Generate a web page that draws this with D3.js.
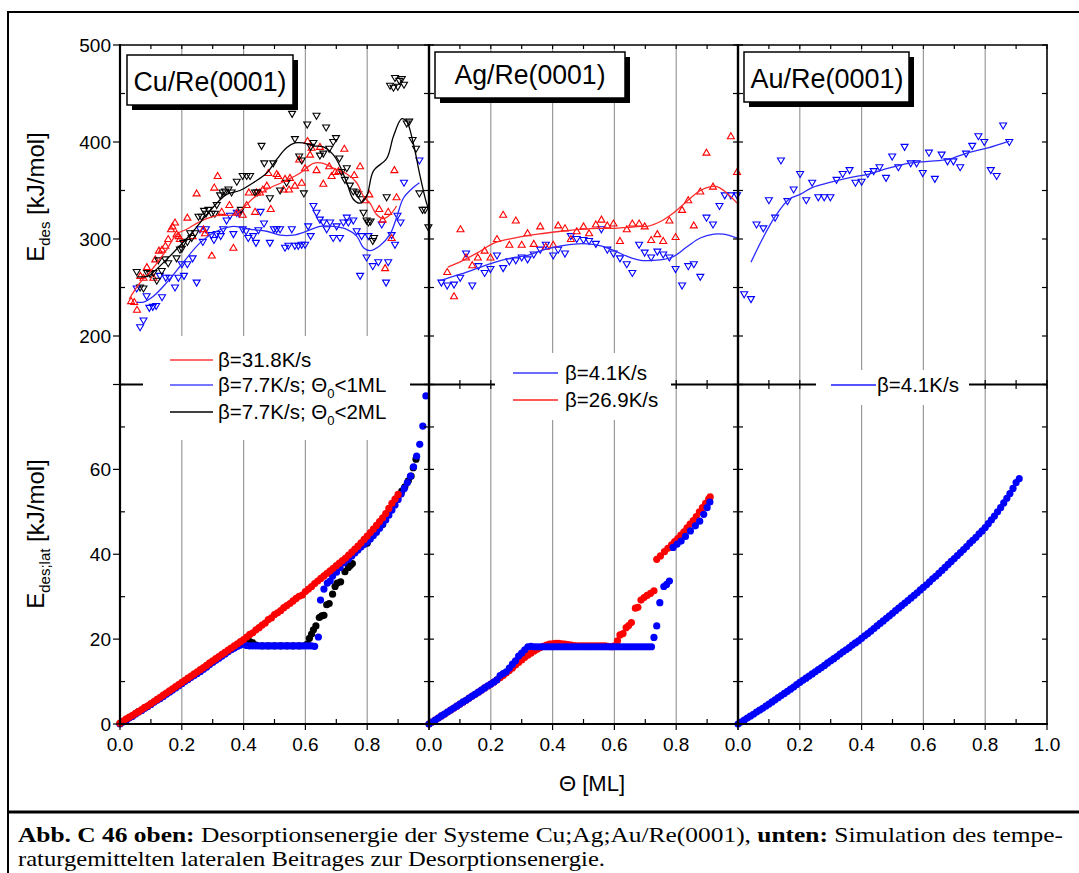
<!DOCTYPE html>
<html><head><meta charset="utf-8">
<script src="https://cdn.jsdelivr.net/npm/d3@7"></script>
<style>body{margin:0;background:#fff}svg{display:block}text{font-family:"Liberation Sans",Arial,sans-serif;fill:#000}</style>
</head><body><svg id="c" width="1079" height="873"></svg>
<script>
// ---------- DATA (Theta [ML], energy) ----------
const panelTitles = ["Cu/Re(0001)", "Ag/Re(0001)", "Au/Re(0001)"];
const topYTicks = [200, 300, 400, 500];
const botYTicks = [0, 20, 40, 60];
const xTickLabels = [["0.0","0.2","0.4","0.6","0.8"],["0.0","0.2","0.4","0.6","0.8"],["0.0","0.2","0.4","0.6","0.8","1.0"]];
const xTickValues = [0, 0.2, 0.4, 0.6, 0.8, 1.0];

// Cu top: beta=31.8 K/s (red up), 7.7 K/s <1ML (blue down), 7.7 K/s <2ML (black down)
const cuTopRed = [[.036,236],[.046,235],[.055,227],[.066,262],[.076,260],[.087,271],[.108,260],[.114,279],[.126,288],[.136,289],[.147,293],[.156,300],[.165,310],[.170,313],[.178,317],[.183,305],[.190,303],[.194,300],[.218,322],[.235,303],[.248,347],[.270,310],[.275,306],[.297,283],[.305,353],[.316,365],[.329,328],[.354,335],[.367,291],[.378,327],[.397,325],[.410,335],[.417,348],[.437,328],[.442,348],[.453,348],[.462,351],[.475,355],[.480,368],[.488,331],[.507,367],[.512,365],[.529,351],[.534,362],[.547,351],[.550,363],[.566,355],[.580,382],[.588,358],[.599,373],[.607,401],[.615,387],[.620,394],[.636,371],[.647,395],[.658,357],[.677,375],[.685,365],[.696,369],[.707,370],[.726,393],[.758,366],[.777,375],[.793,340],[.807,346],[.839,331],[.850,320],[.858,270],[.868,328],[.879,301],[.888,371],[.895,343]];
const cuTopRedFit = [[.030,238],[.043,245],[.065,255],[.097,266],[.151,289],[.183,305],[.216,310],[.259,318],[.313,324],[.367,325],[.399,332],[.431,342],[.475,351],[.529,359],[.583,368],[.626,378],[.658,378],[.690,373],[.734,367],[.766,358],[.788,344],[.809,337],[.831,325],[.852,321],[.874,325],[.895,334]];
const cuTopBlue = [[.054,249],[.065,209],[.076,216],[.086,241],[.095,229],[.106,230],[.117,231],[.129,262],[.136,240],[.148,260],[.160,260],[.178,250],[.189,260],[.200,274],[.207,262],[.218,274],[.235,280],[.248,255],[.259,310],[.268,297],[.278,310],[.296,304],[.304,299],[.313,305],[.326,303],[.334,310],[.345,319],[.356,324],[.367,305],[.378,327],[.386,326],[.397,310],[.408,308],[.415,301],[.431,303],[.440,296],[.448,309],[.455,328],[.466,316],[.485,296],[.498,310],[.507,310],[.518,310],[.534,291],[.545,293],[.556,310],[.566,293],[.577,293],[.588,294],[.599,294],[.609,313],[.617,303],[.626,334],[.636,327],[.647,320],[.658,317],[.669,310],[.680,317],[.690,301],[.701,313],[.712,301],[.723,317],[.734,322],[.739,317],[.755,319],[.766,308],[.777,262],[.782,303],[.798,281],[.804,303],[.818,272],[.836,276],[.847,315],[.861,255],[.868,276],[.879,304],[.890,294],[.898,324],[.908,317],[.919,358],[.969,381]];
const cuTopBlueFit = [[.054,235],[.076,235],[.108,241],[.151,255],[.205,276],[.259,296],[.313,308],[.367,313],[.421,310],[.475,308],[.518,304],[.561,304],[.604,308],[.647,313],[.690,313],[.734,310],[.766,303],[.788,291],[.809,288],[.841,293],[.874,305],[.895,322],[.917,342],[.949,353],[.969,358]];
const cuTopBlack = [[.054,266],[.065,250],[.076,249],[.088,265],[.097,264],[.108,265],[.119,257],[.124,278],[.135,267],[.146,279],[.156,275],[.183,280],[.194,289],[.200,290],[.205,296],[.218,297],[.227,306],[.232,301],[.243,306],[.254,323],[.264,323],[.272,329],[.278,326],[.286,330],[.297,326],[.307,326],[.313,335],[.324,345],[.332,348],[.340,349],[.351,351],[.361,348],[.378,359],[.391,330],[.397,365],[.410,365],[.421,365],[.437,348],[.444,348],[.458,396],[.467,378],[.485,342],[.496,378],[.518,350],[.539,358],[.557,429],[.566,403],[.580,385],[.588,381],[.595,347],[.606,418],[.617,395],[.626,399],[.636,427],[.647,386],[.658,388],[.667,415],[.677,393],[.690,400],[.699,404],[.710,383],[.717,369],[.728,361],[.734,373],[.744,355],[.755,349],[.766,348],[.771,346],[.782,341],[.788,327],[.798,319],[.804,317],[.811,318],[.818,298],[.822,301],[.863,343],[.874,458],[.885,456],[.890,466],[.899,457],[.904,463],[.912,465],[.919,459],[.928,419],[.936,421],[.947,402],[.958,393],[.969,347],[.979,330],[.987,330],[.998,312]];
const cuTopBlackFit = [[.054,261],[.076,261],[.092,262],[.151,279],[.194,293],[.237,308],[.291,329],[.345,346],[.388,350],[.431,358],[.475,368],[.507,382],[.539,394],[.566,399],[.593,399],[.626,396],[.658,395],[.690,387],[.712,375],[.734,358],[.755,341],[.777,337],[.798,344],[.820,370],[.863,383],[.885,406],[.912,424],[.928,421],[.949,399],[.971,365],[.992,337],[1.0,330]];

// Ag top: beta=26.9 K/s (red up), 4.1 K/s (blue down)
const agTopRed = [[.059,266],[.081,241],[.102,310],[.120,281],[.140,273],[.158,281],[.180,288],[.199,281],[.220,300],[.240,325],[.260,294],[.281,319],[.300,294],[.319,306],[.339,295],[.360,313],[.378,292],[.402,294],[.418,314],[.440,311],[.459,300],[.478,308],[.500,313],[.518,306],[.540,315],[.558,320],[.577,314],[.597,316],[.618,298],[.640,310],[.658,316],[.680,316],[.698,313],[.719,299],[.739,305],[.758,298],[.778,319],[.798,302],[.819,330],[.839,340],[.857,314],[.878,349],[.898,389],[.919,354],[.977,406],[.997,369]];
const agTopRedFit = [[.061,271],[.104,277],[.158,286],[.212,296],[.276,301],[.352,305],[.427,308],[.491,310],[.556,311],[.599,311],[.642,312],[.685,313],[.706,313],[.749,318],[.792,327],[.835,339],[.878,350],[.911,354],[.932,354],[.954,350],[.975,344],[.997,337]];
const agTopBlue = [[.040,255],[.059,252],[.081,253],[.101,260],[.120,285],[.140,252],[.160,272],[.180,265],[.199,269],[.220,283],[.240,270],[.260,277],[.281,278],[.300,281],[.319,279],[.339,284],[.360,289],[.378,294],[.402,283],[.418,289],[.440,285],[.459,303],[.478,300],[.500,299],[.518,298],[.540,295],[.558,310],[.577,289],[.597,285],[.618,280],[.640,274],[.658,265],[.680,294],[.698,286],[.719,281],[.739,287],[.758,284],[.778,281],[.798,269],[.819,252],[.839,272],[.857,274],[.878,261],[.898,322],[.919,315],[.940,334],[.957,345],[.977,345],[.997,345]];
const agTopBlueFit = [[.034,257],[.104,264],[.158,270],[.212,276],[.276,281],[.319,283],[.373,289],[.427,293],[.481,295],[.513,295],[.556,293],[.599,288],[.642,282],[.685,278],[.728,278],[.760,279],[.792,282],[.835,292],[.878,301],[.922,305],[.954,305],[.997,301]];

// Au top: beta=4.1 K/s (blue down)
const auTopBlue = [[.020,243],[.042,238],[.060,315],[.082,311],[.100,340],[.120,322],[.139,381],[.160,339],[.180,351],[.201,367],[.221,340],[.240,358],[.260,343],[.279,343],[.299,343],[.319,361],[.339,367],[.361,371],[.380,358],[.400,359],[.420,367],[.439,370],[.458,374],[.479,363],[.499,385],[.519,374],[.539,395],[.559,378],[.578,378],[.598,368],[.618,389],[.637,362],[.659,387],[.678,380],[.697,380],[.719,374],[.738,388],[.758,396],[.778,406],[.797,400],[.818,371],[.837,365],[.858,417],[.878,400]];
const auTopBlueFit = [[.042,276],[.079,300],[.122,324],[.165,341],[.201,346],[.240,353],[.294,358],[.358,363],[.423,367],[.487,373],[.552,378],[.616,380],[.680,382],[.745,389],[.809,394],[.878,401]];

// Bottom: simulated lateral contribution E_des;lat [kJ/mol]
const cuSimRed = [[0,.2],[.01,.7],[.02,1.2],[.03,1.6],[.04,2],[.05,2.5],[.06,2.9],[.07,3.4],[.08,3.9],[.09,4.3],[.1,4.8],[.11,5.3],[.12,5.8],[.13,6.3],[.14,6.8],[.15,7.3],[.16,7.8],[.17,8.3],[.18,8.8],[.19,9.3],[.2,9.8],[.21,10.3],[.22,10.8],[.23,11.3],[.24,11.8],[.25,12.3],[.26,12.8],[.27,13.3],[.28,13.8],[.29,14.4],[.3,14.9],[.31,15.4],[.32,15.9],[.33,16.4],[.34,16.9],[.35,17.4],[.36,17.9],[.37,18.4],[.38,18.9],[.39,19.4],[.4,19.9],[.41,20.5],[.42,21.1],[.43,21.5],[.44,22.2],[.45,22.7],[.46,23.3],[.47,23.8],[.48,24.6],[.49,25],[.5,25.8],[.51,26.2],[.52,26.7],[.53,27.4],[.54,27.9],[.55,28.4],[.56,29],[.57,29.6],[.58,30.1],[.59,30.4],[.6,31.2],[.61,31.8],[.62,32.4],[.63,33.1],[.64,33.7],[.65,34.3],[.66,34.9],[.67,35.5],[.68,36.1],[.69,36.7],[.7,37.3],[.71,37.9],[.72,38.5],[.73,39.1],[.74,39.8],[.75,40.5],[.76,41.2],[.77,41.9],[.78,42.7],[.79,43.5],[.8,44.3],[.81,45.1],[.82,45.9],[.83,46.8],[.84,47.7],[.85,48.6],[.86,49.6],[.87,50.8],[.88,52],[.89,53],[.9,54.1]];
const cuSimBlue = [[0,0],[.01,.45],[.02,.9],[.03,1.4],[.04,1.8],[.05,2.3],[.06,2.8],[.07,3.2],[.08,3.7],[.09,4.1],[.1,4.6],[.11,5.1],[.12,5.6],[.13,6],[.14,6.5],[.15,7],[.16,7.5],[.17,8],[.18,8.5],[.19,9],[.2,9.5],[.21,10],[.22,10.5],[.23,11],[.24,11.4],[.25,11.9],[.26,12.4],[.27,12.9],[.28,13.4],[.29,14],[.3,14.5],[.31,15],[.32,15.5],[.33,16],[.34,16.5],[.35,17],[.36,17.5],[.37,17.9],[.38,18.3],[.39,18.6],[.4,18.8],[.41,18.5],[.42,18.4],[.43,18.4],[.44,18.4],[.45,18.4],[.46,18.4],[.47,18.4],[.48,18.4],[.49,18.4],[.5,18.4],[.51,18.4],[.52,18.4],[.53,18.4],[.54,18.4],[.55,18.4],[.56,18.4],[.57,18.4],[.58,18.4],[.59,18.4],[.6,18.4],[.61,18.4],[.62,18.4],[.63,18.3],[.642,20.5],[.649,29.2],[.66,31.8],[.671,33.2],[.68,33.7],[.688,34.9],[.701,35.8],[.712,36.9],[.725,38],[.739,38.8],[.75,39.6],[.76,40.3],[.77,41],[.78,41.7],[.79,42.3],[.8,42.9],[.81,43.6],[.82,44.4],[.83,45.2],[.84,46.1],[.85,47.1],[.86,48.1],[.87,49.2],[.88,50.4],[.89,51.6],[.9,52.9],[.91,54.2],[.92,55.5],[.93,56.9],[.94,58.4],[.95,60.6],[.96,63.1],[.97,65.9],[.98,70.2],[.99,77.3]];
const cuSimBlack = [[0,.1],[.02,1],[.04,1.9],[.06,2.9],[.08,3.8],[.1,4.7],[.12,5.7],[.14,6.6],[.16,7.6],[.18,8.6],[.2,9.6],[.22,10.6],[.24,11.6],[.26,12.6],[.28,13.6],[.3,14.7],[.32,15.7],[.34,16.8],[.36,17.8],[.38,18.7],[.4,19.2],[.41,19.4],[.42,19.4],[.43,19.1],[.44,18.6],[.46,18.4],[.48,18.4],[.5,18.4],[.52,18.4],[.54,18.4],[.56,18.4],[.58,18.4],[.6,18.5],[.606,18.8],[.613,20.2],[.62,21.2],[.626,22.2],[.634,23.1],[.645,25.1],[.653,25.5],[.66,25.6],[.669,28.1],[.677,28.4],[.688,30.6],[.696,32.4],[.703,33.2],[.714,33.5],[.728,35.9],[.739,36.9],[.746,37.4],[.752,37.8],[.8,42.6],[.85,47],[.9,53.7],[.912,54.9],[.922,55.9],[.933,57.3],[.942,58.4],[.949,60.4],[.958,62.4]];

const agSimRed = [[0,0],[.01,.45],[.02,.9],[.03,1.4],[.04,1.9],[.05,2.3],[.06,2.8],[.07,3.3],[.08,3.7],[.09,4.2],[.1,4.7],[.11,5.1],[.12,5.6],[.13,6.1],[.14,6.6],[.15,7],[.16,7.5],[.17,8],[.18,8.5],[.19,8.9],[.2,9.4],[.21,9.9],[.22,10.4],[.23,10.9],[.24,11.4],[.25,12],[.26,12.6],[.27,13.2],[.28,13.9],[.29,14.5],[.3,15.1],[.31,15.7],[.32,16.2],[.33,16.7],[.34,17.2],[.35,17.6],[.36,18],[.37,18.3],[.38,18.6],[.39,18.8],[.4,18.9],[.41,19],[.42,19],[.43,18.9],[.44,18.8],[.45,18.7],[.46,18.6],[.47,18.5],[.48,18.4],[.49,18.4],[.5,18.4],[.51,18.4],[.52,18.4],[.53,18.4],[.54,18.4],[.55,18.4],[.56,18.4],[.57,18.4],[.58,18.3],[.59,18.2],[.6,18.4],[.61,19.6],[.618,21],[.628,21.3],[.638,22.7],[.646,23.2],[.655,23.9],[.668,27.3],[.676,27.5],[.686,29.2],[.696,29.8],[.706,30.3],[.717,30.8],[.728,31.4],[.737,38.8],[.749,39.6],[.762,40.6],[.773,41.4],[.785,42.2],[.795,43],[.805,43.7],[.815,44.5],[.825,45.3],[.835,46.2],[.845,47.1],[.855,47.9],[.865,48.9],[.875,50],[.885,51],[.895,52],[.905,53],[.91,53.5]];
const agSimBlue = [[0,0],[.01,.47],[.02,.93],[.03,1.4],[.04,1.9],[.05,2.35],[.06,2.8],[.07,3.3],[.08,3.75],[.09,4.2],[.1,4.7],[.11,5.2],[.12,5.6],[.13,6.1],[.14,6.6],[.15,7.05],[.16,7.5],[.17,8],[.18,8.5],[.19,9],[.2,9.4],[.21,9.9],[.22,10.4],[.23,11.4],[.24,11.9],[.25,12.3],[.26,13.2],[.27,14.1],[.28,14.9],[.29,16],[.3,16.7],[.31,17.5],[.32,18.2],[.33,18.3],[.34,18.2],[.35,18.2],[.36,18.2],[.37,18.2],[.38,18.2],[.39,18.2],[.4,18.2],[.41,18.2],[.42,18.2],[.43,18.2],[.44,18.2],[.45,18.2],[.46,18.2],[.47,18.2],[.48,18.2],[.49,18.2],[.5,18.2],[.51,18.2],[.52,18.2],[.53,18.2],[.54,18.2],[.55,18.2],[.56,18.2],[.57,18.2],[.58,18.2],[.59,18.2],[.6,18.2],[.61,18.2],[.62,18.2],[.63,18.2],[.64,18.2],[.65,18.2],[.66,18.2],[.67,18.2],[.68,18.2],[.69,18.2],[.7,18.2],[.71,18.2],[.72,18.2],[.728,20.4],[.737,23.1],[.747,28.6],[.76,32.4],[.769,32.9],[.778,33.7],[.79,41.6],[.803,42.4],[.816,43.1],[.83,44.2],[.846,45.5],[.862,46.7],[.876,47.8],[.889,49.4],[.9,51],[.909,52.3]];

const auSimBlue = [[0,0],[.01,.45],[.02,.9],[.03,1.4],[.04,1.85],[.05,2.3],[.06,2.8],[.07,3.25],[.08,3.7],[.09,4.2],[.1,4.7],[.11,5.2],[.12,5.7],[.13,6.2],[.14,6.7],[.15,7.2],[.16,7.7],[.17,8.2],[.18,8.7],[.19,9.3],[.2,9.8],[.21,10.3],[.22,10.8],[.23,11.3],[.24,11.8],[.25,12.3],[.26,12.8],[.27,13.3],[.28,13.8],[.29,14.4],[.3,14.9],[.31,15.4],[.32,15.9],[.33,16.5],[.34,17],[.35,17.5],[.36,18],[.37,18.6],[.38,19.1],[.39,19.6],[.4,20.2],[.41,20.8],[.42,21.3],[.43,21.9],[.44,22.5],[.45,23.1],[.46,23.7],[.47,24.3],[.48,24.9],[.49,25.5],[.5,26.1],[.51,26.7],[.52,27.3],[.53,27.9],[.54,28.5],[.55,29.1],[.56,29.7],[.57,30.3],[.58,30.9],[.59,31.6],[.6,32.2],[.61,32.8],[.62,33.5],[.63,34.2],[.64,34.8],[.65,35.5],[.66,36.2],[.67,36.9],[.68,37.6],[.69,38.3],[.7,39],[.71,39.7],[.72,40.4],[.73,41.1],[.74,41.8],[.75,42.6],[.76,43.3],[.77,44],[.78,44.8],[.79,45.5],[.8,46.3],[.81,47.2],[.82,48.1],[.83,49],[.84,50],[.85,51],[.86,52.1],[.87,53.2],[.88,54.3],[.89,55.5],[.9,56.9],[.91,57.8]];

// ---------- LAYOUT ----------
const svg = d3.select("#c");
const PW = 309, X0s = [120, 429, 738];
const xs = X0s.map(x0 => d3.scaleLinear().domain([0, 1]).range([x0, x0 + PW]));
const yT = d3.scaleLinear().domain([150, 500]).range([384.5, 45]);
const yB = d3.scaleLinear().domain([0, 80]).range([724, 384.5]);
const RED = "#ff0000", BLUE = "#0000ff", BLK = "#000";

// outer frame & caption rule
svg.append("line").attr("x1",8).attr("x2",1079).attr("y1",12).attr("y2",12).attr("stroke","#000").attr("stroke-width",2);
svg.append("line").attr("x1",8).attr("x2",8).attr("y1",11).attr("y2",873).attr("stroke","#000").attr("stroke-width",2);
svg.append("line").attr("x1",8).attr("x2",1079).attr("y1",812).attr("y2",812).attr("stroke","#000").attr("stroke-width",3);

// grid lines
xs.forEach(x => {
  [0.2,0.4,0.6,0.8].forEach(v => svg.append("line").attr("x1",x(v)).attr("x2",x(v)).attr("y1",45).attr("y2",724)
    .attr("stroke","#9a9a9a").attr("stroke-width",1.2));
});

// middle axis line + its ticks (covered by legends)
svg.append("line").attr("x1",120).attr("x2",1047).attr("y1",384.5).attr("y2",384.5).attr("stroke","#000").attr("stroke-width",2);
xs.forEach(x => d3.range(0, 11).forEach(i => {
  const v = i / 10;
  svg.append("line").attr("x1",x(v)).attr("x2",x(v)).attr("y1",380).attr("y2",389).attr("stroke","#000").attr("stroke-width",1.2);
}));

// ---------- SERIES ----------
const upTri = "M0,-3.5L3.5,2.5L-3.5,2.5Z", downTri = "M0,3.5L3.5,-2.5L-3.5,-2.5Z";
function tri(data, x, color, path) {
  svg.append("g").selectAll("path").data(data).join("path")
    .attr("d", path).attr("transform", d => `translate(${x(d[0])},${yT(d[1])})`)
    .attr("fill","none").attr("stroke", color).attr("stroke-width", 1.1);
}
function fit(data, x, color) {
  svg.append("path").datum(data).attr("fill","none").attr("stroke",color).attr("stroke-width",1.3)
    .attr("d", d3.line().x(d => x(d[0])).y(d => yT(d[1])).curve(d3.curveCatmullRom.alpha(0.5)));
}
function dots(data, x, color) {
  svg.append("g").selectAll("circle").data(data).join("circle")
    .attr("cx", d => x(d[0])).attr("cy", d => yB(d[1])).attr("r", 3.6).attr("fill", color);
}
// Cu top
tri(cuTopBlue, xs[0], BLUE, downTri);
tri(cuTopRed, xs[0], RED, upTri);
tri(cuTopBlack, xs[0], BLK, downTri);
fit(cuTopBlueFit, xs[0], "#2a2aff");
fit(cuTopRedFit, xs[0], "#ff2a2a");
fit(cuTopBlackFit, xs[0], BLK);
// Ag top
tri(agTopBlue, xs[1], BLUE, downTri);
tri(agTopRed, xs[1], RED, upTri);
fit(agTopBlueFit, xs[1], "#2a2aff");
fit(agTopRedFit, xs[1], "#ff2a2a");
// Au top
tri(auTopBlue, xs[2], BLUE, downTri);
fit(auTopBlueFit, xs[2], "#2a2aff");
// bottom simulations
dots(cuSimBlack, xs[0], BLK);
dots(cuSimBlue, xs[0], BLUE);
dots(cuSimRed, xs[0], RED);
dots(agSimRed, xs[1], RED);
dots(agSimBlue, xs[1], BLUE);
dots(auSimBlue, xs[2], BLUE);

// ---------- LEGENDS ----------
const legendBoxes = [[143,336,267,104],[495,353,176,67],[816,370,153,35]];
legendBoxes.forEach(b => svg.append("rect").attr("x",b[0]).attr("y",b[1]).attr("width",b[2]).attr("height",b[3]).attr("fill","#fff"));
function legendItem(x1, x2, y, color, tx, parts) {
  svg.append("line").attr("x1",x1).attr("x2",x2).attr("y1",y).attr("y2",y).attr("stroke",color).attr("stroke-width",1.5);
  const t = svg.append("text").attr("x",tx).attr("y",y+7).attr("font-size",20.5);
  parts.forEach(p => {
    if (p.sub) t.append("tspan").attr("dy",6).attr("font-size",13).text(p.sub);
    else t.append("tspan").attr("dy",p.up ? -6 : 0).text(p.t);
  });
}
legendItem(170,213,360,"#ff3a3a",218,[{t:"β=31.8K/s"}]);
legendItem(170,213,385,"#4848ff",218,[{t:"β=7.7K/s; Θ"},{sub:"0"},{t:"<1ML",up:true}]);
legendItem(170,213,412,"#000",218,[{t:"β=7.7K/s; Θ"},{sub:"0"},{t:"<2ML",up:true}]);
legendItem(513,558,373,"#3a3aff",565,[{t:"β=4.1K/s"}]);
legendItem(513,558,400,"#ff2020",565,[{t:"β=26.9K/s"}]);
legendItem(831,876,385,"#1a1aff",877,[{t:"β=4.1K/s"}]);

// ---------- AXES ----------
function L(x1,y1,x2,y2,w){svg.append("line").attr("x1",x1).attr("y1",y1).attr("x2",x2).attr("y2",y2).attr("stroke","#000").attr("stroke-width",w);}
L(120,45,1047,45,1.3);
L(119,724,1048,724,2);
L(120,44,120,725,2.2);
L(429,44,429,725,2.4);
L(738,44,738,725,2.4);
L(1047,44,1047,725,1.6);

// y ticks
const topMinor = [150,200,250,300,350,400,450,500], botMinor = d3.range(0,81,10);
topMinor.forEach(v => {
  const y = yT(v), major = v % 100 === 0;
  if (major) L(113,y,120,y,1.2); else L(120,y,125,y,1.2);
  [429,738].forEach(x => L(x-5,y,x+5,y,1.2));
  L(1042,y,1047,y,1.2);
});
botMinor.forEach(v => {
  const y = yB(v), major = v % 20 === 0;
  if (major) L(113,y,120,y,1.2); else L(120,y,125,y,1.2);
  [429,738].forEach(x => L(x-5,y,x+5,y,1.2));
  L(1042,y,1047,y,1.2);
});
// x ticks
xs.forEach(x => d3.range(0, 11).forEach(i => {
  const v = i / 10;
  L(x(v),45,x(v),49,1.2);
  if (i % 2 === 0) L(x(v),724,x(v),730,1.2); else L(x(v),719,x(v),724,1.2);
}));

// tick labels
topYTicks.forEach(v => svg.append("text").attr("x",111).attr("y",yT(v)).attr("dy","0.35em").attr("text-anchor","end").attr("font-size",19).text(v));
botYTicks.forEach(v => svg.append("text").attr("x",111).attr("y",yB(v)).attr("dy","0.35em").attr("text-anchor","end").attr("font-size",19).text(v));
xs.forEach((x, k) => xTickLabels[k].forEach((lab, i) =>
  svg.append("text").attr("x",x(xTickValues[i])).attr("y",751).attr("text-anchor","middle").attr("font-size",19).text(lab)));

// axis titles
const t1 = svg.append("text").attr("transform","translate(44,197) rotate(-90)").attr("text-anchor","middle").attr("font-size",24);
t1.append("tspan").text("E"); t1.append("tspan").attr("dy",6).attr("font-size",15).text("des"); t1.append("tspan").attr("dy",-6).text(" [kJ/mol]");
const t2 = svg.append("text").attr("transform","translate(44,534) rotate(-90)").attr("text-anchor","middle").attr("font-size",24);
t2.append("tspan").text("E"); t2.append("tspan").attr("dy",6).attr("font-size",15).text("des;lat"); t2.append("tspan").attr("dy",-6).text(" [kJ/mol]");
svg.append("text").attr("x",592).attr("y",791).attr("text-anchor","middle").attr("font-size",22).text("Θ [ML]");

// panel title boxes
const titleBoxes = [[127,55,166,50,210,91,153],[435,52,190,46,530,84,151],[744,52,165,50,827,88,153]];
titleBoxes.forEach((b, i) => {
  svg.append("rect").attr("x",b[0]+5).attr("y",b[1]+5).attr("width",b[2]).attr("height",b[3]).attr("fill","#000");
  svg.append("rect").attr("x",b[0]).attr("y",b[1]).attr("width",b[2]).attr("height",b[3]).attr("fill","#fff").attr("stroke","#000").attr("stroke-width",1.5);
  svg.append("text").attr("x",b[4]).attr("y",b[5]).attr("text-anchor","middle").attr("font-size",27)
    .attr("textLength",b[6]).attr("lengthAdjust","spacingAndGlyphs").text(panelTitles[i]);
});

// caption
const cap1 = svg.append("text").attr("x",18).attr("y",842).attr("font-size",21).attr("textLength",1045).attr("lengthAdjust","spacingAndGlyphs")
  .style("font-family","'Liberation Serif','DejaVu Serif',serif");
cap1.append("tspan").attr("font-weight","bold").text("Abb. C 46 oben:");
cap1.append("tspan").text(" Desorptionsenergie der Systeme Cu;Ag;Au/Re(0001), ");
cap1.append("tspan").attr("font-weight","bold").text("unten:");
cap1.append("tspan").text(" Simulation des tempe-");
svg.append("text").attr("x",18).attr("y",866).attr("font-size",21).attr("textLength",587).attr("lengthAdjust","spacingAndGlyphs")
  .style("font-family","'Liberation Serif','DejaVu Serif',serif").text("raturgemittelten lateralen Beitrages zur Desorptionsenergie.");
</script></body></html>
